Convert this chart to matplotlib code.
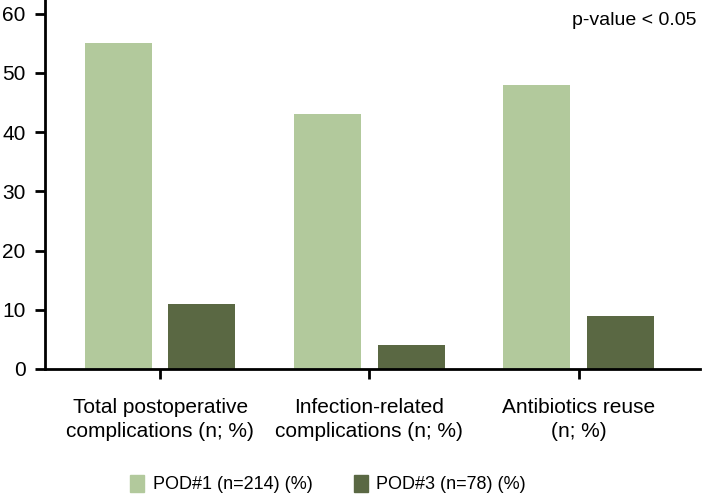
import matplotlib
matplotlib.use("Agg")
import matplotlib.pyplot as plt
import numpy as np
from matplotlib.patches import Patch

categories = ["Total postoperative\ncomplications (n; %)",
              "Infection-related\ncomplications (n; %)",
              "Antibiotics reuse\n(n; %)"]
pod1 = [55, 43, 48]
pod3 = [11, 4, 9]
series_labels = ["POD#1 (n=214) (%)", "POD#3 (n=78) (%)"]
yticks = [0, 10, 20, 30, 40, 50, 60]

c1 = "#B2C99C"
c3 = "#5A6843"

plt.rcParams['font.family'] = ['Liberation Sans', 'DejaVu Sans']

fig = plt.figure(figsize=(7.02, 4.98), dpi=100)
ax = fig.add_axes([45/702, 1-369/498, (700-45)/702, 369/498])

x = np.arange(len(categories))
w = 0.32
ax.bar(x - 0.2, pod1, width=w, color=c1)
ax.bar(x + 0.2, pod3, width=w, color=c3)

ax.set_xlim(-0.55, 2.58)
ax.set_ylim(0, 62.3)
ax.set_yticks(yticks)
ax.set_xticks(x)
ax.set_xticklabels(categories, fontsize=15, linespacing=1.3)
ax.tick_params(axis='y', labelsize=15, length=7, width=2, pad=7)
ax.tick_params(axis='x', length=7, width=2, pad=14)
for s in ['top', 'right']:
    ax.spines[s].set_visible(False)
for s in ['left', 'bottom']:
    ax.spines[s].set_linewidth(2)

ax.text(0.995, 0.945, "p-value < 0.05", transform=ax.transAxes,
        ha='right', va='center', fontsize=14)

handles = [Patch(color=c1), Patch(color=c3)]
fig.legend(handles, series_labels, loc='center left', bbox_to_anchor=(130/702, 1-484/498),
           ncol=2, frameon=False, fontsize=13, handlelength=0.8, handleheight=1.1,
           columnspacing=2.3, handletextpad=0.45, borderpad=0, borderaxespad=0)

fig.savefig("out.png", dpi=100)
